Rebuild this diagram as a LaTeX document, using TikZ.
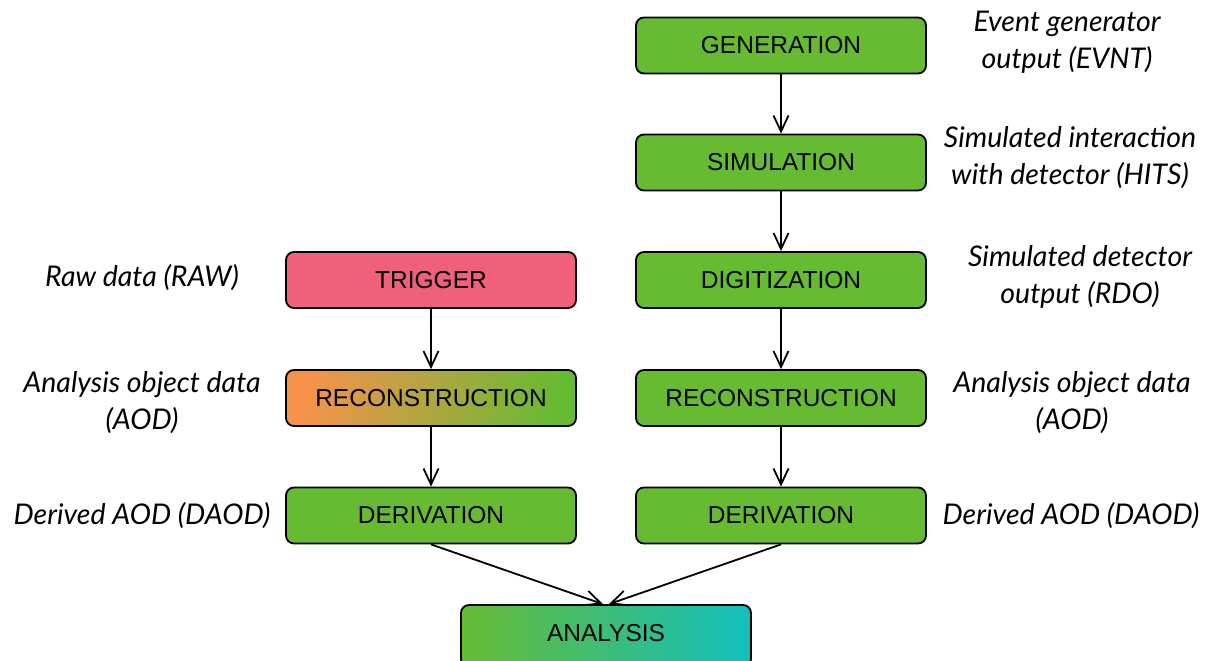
\documentclass[tikz,border=0pt]{standalone}
\usepackage{fontspec}
\setmainfont{Liberation Sans}
\newfontfamily\labelfont{Lato}
\usetikzlibrary{arrows.meta}
\definecolor{boxgreen}{HTML}{66BB33}
\definecolor{boxpink}{HTML}{F0607A}
\definecolor{boxorange}{HTML}{F7924B}
\definecolor{boxteal}{HTML}{12BFBE}
\begin{document}
\begin{tikzpicture}[x=1pt,y=-1pt,
  stage/.style={draw=black, line width=1.8pt, rounded corners=8pt,
    minimum width=290pt, minimum height=56pt, inner sep=0pt,
    font=\fontsize{24.5}{29}\selectfont, fill=boxgreen},
  lbl/.style={font=\labelfont\itshape\fontsize{28.5}{37}\selectfont, align=center},
  arr/.style={line width=1.8pt, -{Straight Barb[length=16pt,width=15pt]}}]
\useasboundingbox (0,0) rectangle (1210,661);
% right column
\node[stage] (gen) at (781,45.5) {GENERATION};
\node[stage] (sim) at (781,162.5) {SIMULATION};
\node[stage] (dig) at (781,280) {DIGITIZATION};
\node[stage] (recR) at (781,398) {RECONSTRUCTION};
\node[stage] (derR) at (781,515.5) {DERIVATION};
% left column
\node[stage, fill=boxpink] (trig) at (431,280) {TRIGGER};
\node[stage, fill=none, left color=boxorange, right color=boxgreen, shading angle=80] (recL) at (431,398) {RECONSTRUCTION};
\node[stage] (derL) at (431,515.5) {DERIVATION};
% analysis
\node[stage, fill=none, minimum height=62pt, left color=boxgreen, right color=boxteal] (ana) at (606,636) {};
\node[font=\fontsize{24.5}{29}\selectfont] (anat) at (606,633) {ANALYSIS};
% connectors
\draw[arr] (gen) -- (sim);
\draw[arr] (sim) -- (dig);
\draw[arr] (dig) -- (recR);
\draw[arr] (recR) -- (derR);
\draw[arr] (trig) -- (recL);
\draw[arr] (recL) -- (derL);
\coordinate (anaL) at ([xshift=-3pt]ana.north);
\coordinate (anaR) at ([xshift=3pt]ana.north);
\draw[arr] (derL.south) -- (anaL);
\draw[arr] (derR.south) -- (anaR);
% labels
\node[lbl] (l1) at (1067,42) {Event generator\\output (EVNT)};
\node[lbl] (l2) at (1070,158) {Simulated interaction\\with detector (HITS)};
\node[lbl] (l3) at (1080,277) {Simulated detector\\output (RDO)};
\node[lbl] (l4) at (1072,403) {Analysis object data\\(AOD)};
\node[lbl] (l5) at (1071,516) {Derived AOD (DAOD)};
\node[lbl] (l6) at (142,278) {Raw data (RAW)};
\node[lbl] (l7) at (142,403) {Analysis object data\\(AOD)};
\node[lbl] (l8) at (142,516) {Derived AOD (DAOD)};
\end{tikzpicture}
\end{document}
